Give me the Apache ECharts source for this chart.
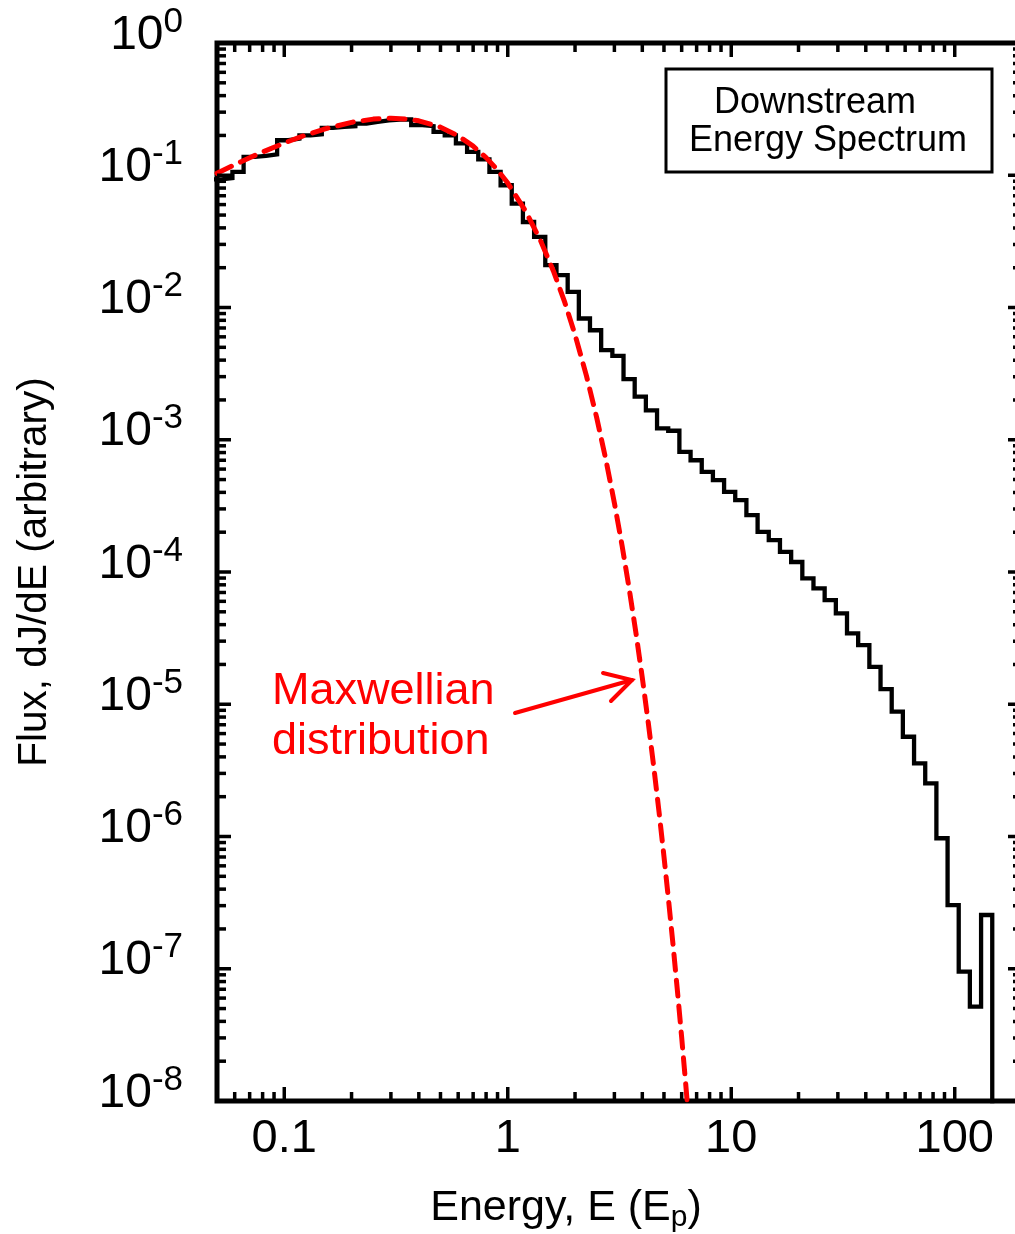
<!DOCTYPE html>
<html>
<head>
<meta charset="utf-8">
<script src="https://cdn.jsdelivr.net/npm/echarts@6/dist/echarts.min.js"></script>
<style>
  html, body { margin: 0; padding: 0; background: #ffffff; }
  #chart { width: 1015px; height: 1234px; }
</style>
</head>
<body>
<div id="chart"></div>
<script>
const FONT = '"Liberation Sans", Arial, Helvetica, sans-serif';

// Histogram bin edges of the downstream spectrum, energy in units of E_p
const binEdges = [
  0.04656, 0.05224, 0.05861, 0.06577, 0.07379, 0.08279, 0.0929,
  0.1042, 0.1169, 0.1312, 0.1472, 0.1652, 0.1854, 0.2080, 0.2333, 0.2618,
  0.2938, 0.3296, 0.3698, 0.4150, 0.4656, 0.5224, 0.5861, 0.6577, 0.7379, 0.8279, 0.9290,
  1.042, 1.169, 1.312, 1.472, 1.652, 1.854, 2.080, 2.333, 2.618,
  2.938, 3.296, 3.698, 4.150, 4.656, 5.224, 5.861, 6.577, 7.379, 8.279, 9.290,
  10.42, 11.69, 13.12, 14.72, 16.52, 18.54, 20.80, 23.33, 26.18,
  29.38, 32.96, 36.98, 41.50, 46.56, 52.24, 58.61, 65.77, 73.79, 82.79, 92.90,
  104.2, 116.9, 131.2, 147.2
];

// Flux dJ/dE in each bin (one value per bin, arbitrary units)
const binFlux = [
  0.093, 0.095, 0.106, 0.1375, 0.140, 0.144, 0.184, 0.189, 0.200, 0.204,
  0.228, 0.232, 0.235, 0.246, 0.253, 0.260, 0.264, 0.264, 0.239, 0.235,
  0.2125, 0.200, 0.174, 0.150, 0.132, 0.106, 0.084, 0.0611, 0.0443, 0.0342,
  0.0209, 0.01755, 0.01313, 0.00826, 0.00673, 0.00476, 0.00430, 0.00287, 0.00212, 0.00167,
  0.00122, 0.00117, 8.1e-4, 7.0e-4, 5.72e-4, 4.95e-4, 4.04e-4, 3.49e-4, 2.69e-4, 2.01e-4,
  1.74e-4, 1.42e-4, 1.19e-4, 8.95e-5, 7.52e-5, 6.13e-5, 4.87e-5, 3.44e-5, 2.80e-5, 1.92e-5,
  1.30e-5, 8.78e-6, 5.68e-6, 3.57e-6, 2.52e-6, 9.7e-7, 3.03e-7, 9.5e-8, 5.17e-8, 2.55e-7
];

// Maxwellian reference curve
const maxwellE = [
  0.05, 0.06, 0.07, 0.08, 0.1, 0.12, 0.15, 0.2, 0.25, 0.3,
  0.35, 0.4, 0.5, 0.6, 0.7, 0.8, 0.9, 1.0, 1.2, 1.4,
  1.6, 1.8, 2.0, 2.25, 2.5, 2.75, 3.0, 3.25, 3.5, 3.75,
  4.0, 4.25, 4.5, 4.75, 5.0, 5.25, 5.5, 5.75, 6.0, 6.25, 6.5
];
const maxwellFlux = [
  0.1035, 0.1202, 0.1356, 0.1499, 0.1753, 0.1968, 0.2226, 0.2512, 0.2658, 0.2700,
  0.2666, 0.2580, 0.2311, 0.1987, 0.1661, 0.1360, 0.1096, 0.08727, 0.05378, 0.03221,
  0.01890, 0.01092, 0.006229, 0.003045, 0.00147, 7.02e-4, 3.33e-4, 1.57e-4, 7.34e-5, 3.42e-5,
  1.585e-5, 7.32e-6, 3.37e-6, 1.545e-6, 7.07e-7, 3.22e-7, 1.47e-7, 6.67e-8, 3.03e-8, 1.37e-8, 6.2e-9
];

// Axis ranges and tick structure
const xRange = [0.05, 200];
const yRange = [1e-8, 1];
const xTickLabels = ['0.1', '1', '10', '100'];
const decadeMultipliers = [2, 3, 4, 5, 6, 7, 8, 9];
const xDecades = [0.01, 0.1, 1, 10, 100];
const yDecades = [1e-8, 1e-7, 1e-6, 1e-5, 1e-4, 1e-3, 1e-2, 1e-1, 1];

const MAJOR_LEN = 14, MINOR_LEN = 9;

function inside(v, r) { return v > r[0] * 1.001 && v < r[1] * 0.999; }
function insideOrEdge(v, r) { return v >= r[0] * 0.9999 && v <= r[1] * 1.0001; }

const xTickData = [];
const yTickData = [];
xDecades.forEach(d => {
  if (insideOrEdge(d, xRange)) xTickData.push([d, MAJOR_LEN]);
  decadeMultipliers.forEach(m => { const v = d * m; if (inside(v, xRange)) xTickData.push([v, MINOR_LEN]); });
});
yDecades.forEach(d => {
  if (insideOrEdge(d, yRange)) yTickData.push([d, MAJOR_LEN]);
  decadeMultipliers.forEach(m => { const v = d * m; if (inside(v, yRange)) yTickData.push([v, MINOR_LEN]); });
});

// Step histogram: each point is a bin's left edge; the trace closes down to the axis at the last edge
const histData = binFlux.map((f, i) => [binEdges[i], f]);
histData.push([binEdges[binEdges.length - 1], 1e-9]);

const maxwellData = maxwellE.map((e, i) => [e, maxwellFlux[i]]);

const tickStyle = { stroke: '#000', lineWidth: 3.5 };

function renderXTicks(params, api) {
  const cs = params.coordSys;
  const v = api.value(0), len = api.value(1);
  const px = api.coord([v, 1e-4])[0];
  const yb = cs.y + cs.height, yt = cs.y;
  return {
    type: 'group',
    children: [
      { type: 'line', shape: { x1: px, y1: yb, x2: px, y2: yb - len }, style: tickStyle },
      { type: 'line', shape: { x1: px, y1: yt, x2: px, y2: yt + len }, style: tickStyle }
    ]
  };
}

function renderYTicks(params, api) {
  const cs = params.coordSys;
  const v = api.value(0), len = api.value(1);
  const py = api.coord([1, v])[1];
  const xl = cs.x, xr = cs.x + cs.width;
  return {
    type: 'group',
    children: [
      { type: 'line', shape: { x1: xl, y1: py, x2: xl + len, y2: py }, style: tickStyle },
      { type: 'line', shape: { x1: xr, y1: py, x2: xr - len, y2: py }, style: tickStyle }
    ]
  };
}

const chart = echarts.init(document.getElementById('chart'), null, { renderer: 'canvas' });

const option = {
  animation: false,
  backgroundColor: '#ffffff',
  grid: {
    left: 217, top: 43, width: 805, height: 1058,
    containLabel: false, outerBoundsMode: 'none',
    show: true, borderColor: '#000000', borderWidth: 5, backgroundColor: 'transparent'
  },
  xAxis: {
    type: 'log', logBase: 10, min: xRange[0], max: xRange[1],
    axisLine: { show: false }, axisTick: { show: false }, splitLine: { show: false },
    axisLabel: {
      show: true, margin: 15, color: '#000', fontFamily: FONT, fontSize: 47,
      showMinLabel: false, showMaxLabel: false,
      formatter: function (v) {
        const e = Math.log10(v);
        if (Math.abs(e - Math.round(e)) > 1e-6) return '';
        const k = Math.round(e) + 1;
        return (k >= 0 && k < xTickLabels.length) ? xTickLabels[k] : '';
      }
    }
  },
  yAxis: {
    type: 'log', logBase: 10, min: yRange[0], max: yRange[1], interval: 1,
    axisLine: { show: false }, axisTick: { show: false }, splitLine: { show: false },
    axisLabel: {
      show: true, margin: 34, showMinLabel: true, showMaxLabel: true,
      padding: [0, 0, 15, 0],
      formatter: function (v) {
        const e = Math.round(Math.log10(v));
        return '{b|10}{s|' + e + '}';
      },
      rich: {
        b: { fontFamily: FONT, fontSize: 48, lineHeight: 62, color: '#000' },
        s: { fontFamily: FONT, fontSize: 35, lineHeight: 35, color: '#000', verticalAlign: 'top' }
      }
    }
  },
  series: [
    {
      type: 'line', name: 'Downstream', data: histData, step: 'end',
      showSymbol: false, symbol: 'none', clip: true, z: 3,
      lineStyle: { color: '#000000', width: 4.3, join: 'miter', cap: 'square' }
    },
    {
      type: 'line', name: 'Maxwellian', data: maxwellData, smooth: false,
      showSymbol: false, symbol: 'none', clip: true, z: 4,
      lineStyle: { color: '#ff0000', width: 5, type: [16, 10], cap: 'round' }
    },
    { type: 'custom', name: 'xTicks', data: xTickData, renderItem: renderXTicks, z: 5, silent: true },
    { type: 'custom', name: 'yTicks', data: yTickData, renderItem: renderYTicks, z: 5, silent: true }
  ],
  graphic: [
    {
      type: 'rect', shape: { x: 666, y: 69, width: 326, height: 103 },
      style: { fill: '#ffffff', stroke: '#000000', lineWidth: 3 }, z: 10
    },
    {
      type: 'text', x: 815, y: 103, z: 11,
      style: { text: 'Downstream', fontFamily: FONT, fontSize: 36, fill: '#000', align: 'center', verticalAlign: 'middle' }
    },
    {
      type: 'text', x: 828, y: 141, z: 11,
      style: { text: 'Energy Spectrum', fontFamily: FONT, fontSize: 36, fill: '#000', align: 'center', verticalAlign: 'middle' }
    },
    {
      type: 'text', x: 272, y: 692, z: 11,
      style: { text: 'Maxwellian', fontFamily: FONT, fontSize: 45, fill: '#ff0000', align: 'left', verticalAlign: 'middle' }
    },
    {
      type: 'text', x: 272, y: 742, z: 11,
      style: { text: 'distribution', fontFamily: FONT, fontSize: 45, fill: '#ff0000', align: 'left', verticalAlign: 'middle' }
    },
    {
      type: 'line', z: 11, shape: { x1: 515, y1: 713, x2: 632, y2: 680 },
      style: { stroke: '#ff0000', lineWidth: 4, lineCap: 'round' }
    },
    {
      type: 'polyline', z: 11, shape: { points: [[603, 673], [632, 680], [611, 701]] },
      style: { stroke: '#ff0000', lineWidth: 4, lineCap: 'round', lineJoin: 'miter', fill: null }
    },
    {
      type: 'text', x: 566, y: 1208, z: 11,
      style: {
        text: '{a|Energy, E (E}{p|p}{a|)}', align: 'center', verticalAlign: 'middle',
        rich: {
          a: { fontFamily: FONT, fontSize: 43, lineHeight: 50, fill: '#000' },
          p: { fontFamily: FONT, fontSize: 30, lineHeight: 30, fill: '#000', verticalAlign: 'bottom' }
        }
      }
    },
    {
      type: 'text', x: 35, y: 572, rotation: Math.PI / 2, z: 11,
      style: { text: 'Flux, dJ/dE (arbitrary)', fontFamily: FONT, fontSize: 40.5, fill: '#000', align: 'center', verticalAlign: 'middle' }
    }
  ]
};

chart.setOption(option);
</script>
</body>
</html>
